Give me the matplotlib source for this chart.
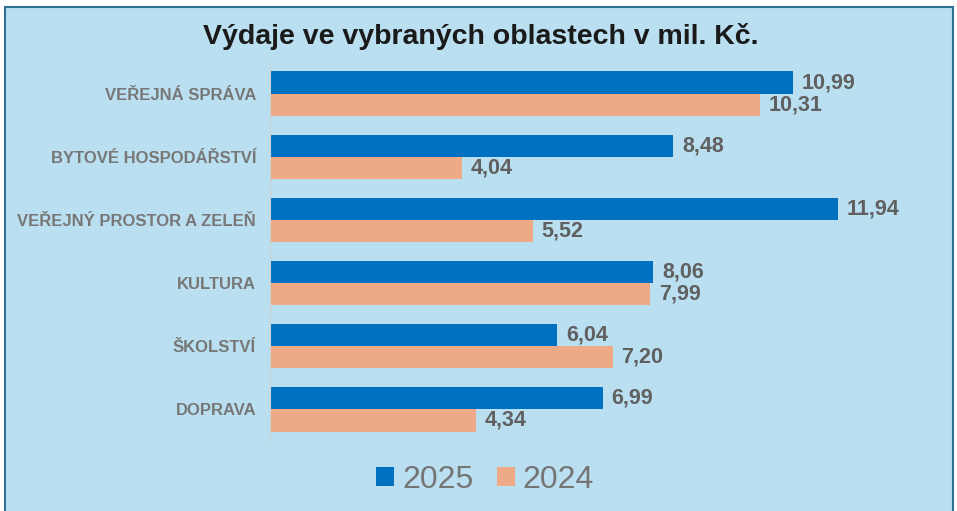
import matplotlib.pyplot as plt
import numpy as np
from matplotlib.patches import Rectangle

categories = ['VEŘEJNÁ SPRÁVA', 'BYTOVÉ HOSPODÁŘSTVÍ', 'VEŘEJNÝ PROSTOR A ZELEŇ',
              'KULTURA', 'ŠKOLSTVÍ', 'DOPRAVA']
values_2025 = [10.99, 8.48, 11.94, 8.06, 6.04, 6.99]
values_2024 = [10.31, 4.04, 5.52, 7.99, 7.20, 4.34]
series_names = ['2025', '2024']

blue = '#0070C0'
orange = '#EEA987'
panel = '#BADFF0'

plt.rcParams['font.family'] = ['Liberation Sans', 'DejaVu Sans']

fig = plt.figure(figsize=(9.57, 5.11), dpi=100)
fig.patch.set_facecolor('white')

# background panel with border
fig.patches.append(Rectangle((5 / 957, -0.01), 948 / 957, 1 - 7 / 511 + 0.01,
                             transform=fig.transFigure, facecolor=panel,
                             edgecolor='#2F6F8F', linewidth=1.5, zorder=-1))

ax = fig.add_axes([270 / 957, 1 - 441 / 511, 660 / 957, 379 / 511])
ax.set_zorder(1)
ax.set_facecolor('none')

y = np.arange(len(categories))
h = 0.35
ax.barh(y - h / 2, values_2025, height=h, color=blue, label=series_names[0])
ax.barh(y + h / 2, values_2024, height=h, color=orange, label=series_names[1])

for yi, v in zip(y, values_2025):
    ax.text(v + 0.18, yi - h / 2, f'{v:.2f}'.replace('.', ','), va='center', ha='left',
            fontsize=15.5, fontweight='bold', color='#606060')
for yi, v in zip(y, values_2024):
    ax.text(v + 0.18, yi + h / 2, f'{v:.2f}'.replace('.', ','), va='center', ha='left',
            fontsize=15.5, fontweight='bold', color='#606060')

ax.set_ylim(len(categories) - 0.5, -0.5)
ax.set_xlim(0, 660 / 47.57)
ax.set_yticks(y)
ax.set_yticklabels(categories, fontsize=12, fontweight='bold', color='#777777')
ax.tick_params(axis='y', length=0, pad=10)
ax.set_xticks([])
for s in ['top', 'right', 'bottom']:
    ax.spines[s].set_visible(False)
ax.spines['left'].set_color('#D0D0D0')

fig.text(0.502, 1 - 37 / 511, 'Výdaje ve vybraných oblastech v mil. Kč.', ha='center',
         va='center', fontsize=20.5, fontweight='bold', color='#1A1A1A')

fig.legend(loc='center', bbox_to_anchor=(0.507, 1 - 480 / 511), ncol=2, frameon=False,
           fontsize=23, labelcolor='#757575', handlelength=0.55, handleheight=0.55,
           handletextpad=0.25, columnspacing=0.75)

fig.savefig('out.png', dpi=100)
